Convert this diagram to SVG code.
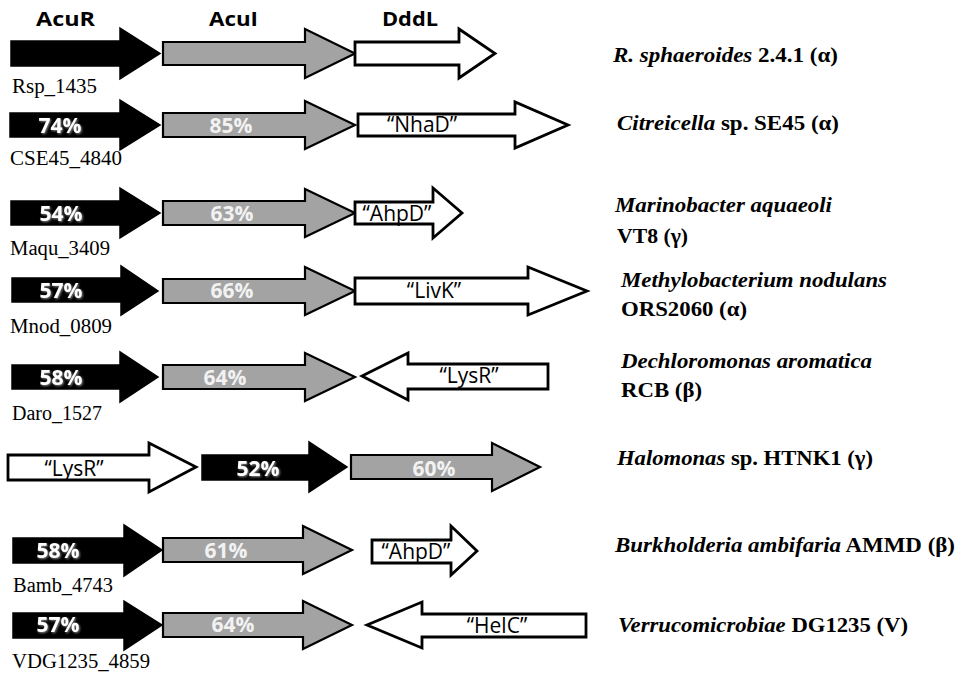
<svg xmlns="http://www.w3.org/2000/svg" width="958" height="673" viewBox="0 0 958 673">
<style>
.bk{fill:#000;stroke:#000;stroke-width:1.5;stroke-linejoin:miter}
.gr{fill:#a3a3a3;stroke:#000;stroke-width:2.2;stroke-linejoin:miter}
.wh{fill:#fff;stroke:#000;stroke-width:2.8;stroke-linejoin:miter}
.hd{font-family:"Open Sans","Liberation Sans",sans-serif;font-weight:bold;font-size:20px;fill:#000}
.pc{font-family:"Open Sans","Liberation Sans",sans-serif;font-weight:bold;font-size:21px;fill:#fff;text-anchor:middle;filter:url(#sh)}
.pg{font-family:"Open Sans","Liberation Sans",sans-serif;font-weight:bold;font-size:21px;fill:#f2f2f2;text-anchor:middle}
.q{font-family:"Open Sans","Liberation Sans",sans-serif;font-size:21px;fill:#000;text-anchor:middle}
.gn{font-family:"Liberation Serif","Times New Roman",serif;font-size:20px;fill:#000}
.sp{font-family:"Liberation Serif","Times New Roman",serif;font-size:21px;font-weight:bold;fill:#000}
.it{font-style:italic}
</style>
<defs>
<filter id="sh" x="-20%" y="-30%" width="140%" height="160%">
<feDropShadow dx="1" dy="1" stdDeviation="0.8" flood-color="#8a8a8a" flood-opacity="1"/>
</filter>
</defs>
<rect width="958" height="673" fill="#fff"/>

<g id="headers">
<text class="hd" x="36" y="26" textLength="59" lengthAdjust="spacingAndGlyphs">AcuR</text>
<text class="hd" x="209" y="26" textLength="49" lengthAdjust="spacingAndGlyphs">AcuI</text>
<text class="hd" x="382" y="26" textLength="56" lengthAdjust="spacingAndGlyphs">DddL</text>
</g>

<g id="row1">
<g id="r1-acuR"><path class="bk" d="M11,41 L120,41 L120,28 L160,53.5 L120,79 L120,66 L11,66 Z"/></g>
<g id="r1-acuI"><path class="gr" d="M163,42 L305,42 L305,29 L355,53.5 L305,78 L305,65 L163,65 Z"/></g>
<g id="r1-dddL"><path class="wh" d="M355,42 L459,42 L459,29 L495,53.5 L459,78 L459,65 L355,65 Z"/></g>
<text class="gn" x="12" y="93" textLength="85" lengthAdjust="spacingAndGlyphs">Rsp_1435</text>
<text class="sp" x="613" y="62" textLength="225" lengthAdjust="spacingAndGlyphs"><tspan class="it">R. sphaeroides</tspan> 2.4.1 (α)</text>
</g>

<g id="row2">
<g id="r2-acuR"><path class="bk" d="M10,113 L120,113 L120,100 L160,125 L120,150 L120,137 L10,137 Z"/><text class="pc" x="60" y="133">74%</text></g>
<g id="r2-acuI"><path class="gr" d="M163,113 L305,113 L305,101 L355,125 L305,149 L305,137 L163,137 Z"/><text class="pg" x="231" y="133">85%</text></g>
<g id="r2-nhaD"><path class="wh" d="M358,114 L515,114 L515,102 L568,125 L515,148 L515,136 L358,136 Z"/><text class="q" x="422" y="132">“NhaD”</text></g>
<text class="gn" x="10" y="165" textLength="112" lengthAdjust="spacingAndGlyphs">CSE45_4840</text>
<text class="sp" x="617" y="130" textLength="222" lengthAdjust="spacingAndGlyphs"><tspan class="it">Citreicella</tspan> sp. SE45 (α)</text>
</g>

<g id="row3">
<g id="r3-acuR"><path class="bk" d="M11,201 L120,201 L120,188 L160,213 L120,238 L120,225 L11,225 Z"/><text class="pc" x="61" y="221">54%</text></g>
<g id="r3-acuI"><path class="gr" d="M163,201 L305,201 L305,189 L355,213 L305,237 L305,225 L163,225 Z"/><text class="pg" x="232" y="221">63%</text></g>
<g id="r3-ahpD"><path class="wh" d="M355,202 L433,202 L433,188 L462,213 L433,238 L433,224 L355,224 Z"/><text class="q" x="397" y="221">“AhpD”</text></g>
<text class="gn" x="10" y="255" textLength="100" lengthAdjust="spacingAndGlyphs">Maqu_3409</text>
<text class="sp it" x="615" y="212" textLength="217" lengthAdjust="spacingAndGlyphs">Marinobacter aquaeoli</text>
<text class="sp" x="617" y="243" textLength="71" lengthAdjust="spacingAndGlyphs">VT8 (γ)</text>
</g>

<g id="row4">
<g id="r4-acuR"><path class="bk" d="M12,278 L121,278 L121,266 L158,291 L121,315 L121,302 L12,302 Z"/><text class="pc" x="61" y="298">57%</text></g>
<g id="r4-acuI"><path class="gr" d="M163,279 L305,279 L305,267 L355,291 L305,315 L305,303 L163,303 Z"/><text class="pg" x="232" y="298">66%</text></g>
<g id="r4-livK"><path class="wh" d="M355,278 L528,278 L528,267 L587,291 L528,315 L528,304 L355,304 Z"/><text class="q" x="434" y="298">“LivK”</text></g>
<text class="gn" x="10" y="333" textLength="102" lengthAdjust="spacingAndGlyphs">Mnod_0809</text>
<text class="sp it" x="621" y="287" textLength="266" lengthAdjust="spacingAndGlyphs">Methylobacterium nodulans</text>
<text class="sp" x="621" y="316" textLength="126" lengthAdjust="spacingAndGlyphs">ORS2060 (α)</text>
</g>

<g id="row5">
<g id="r5-acuR"><path class="bk" d="M12,365 L120,365 L120,352 L158,377 L120,402 L120,389 L12,389 Z"/><text class="pc" x="61" y="385">58%</text></g>
<g id="r5-acuI"><path class="gr" d="M163,365 L305,365 L305,353 L355,377 L305,401 L305,389 L163,389 Z"/><text class="pg" x="225" y="385">64%</text></g>
<g id="r5-lysR"><path class="wh" d="M548,364 L408,364 L408,353 L362,376 L408,400 L408,389 L548,389 Z"/><text class="q" x="469" y="383">“LysR”</text></g>
<text class="gn" x="12" y="420" textLength="90" lengthAdjust="spacingAndGlyphs">Daro_1527</text>
<text class="sp it" x="621" y="368" textLength="251" lengthAdjust="spacingAndGlyphs">Dechloromonas aromatica</text>
<text class="sp" x="621" y="397" textLength="81" lengthAdjust="spacingAndGlyphs">RCB (β)</text>
</g>

<g id="row6">
<g id="r6-lysR"><path class="wh" d="M8,455 L149,455 L149,443 L196,467 L149,492 L149,480 L8,480 Z"/><text class="q" x="74" y="476">“LysR”</text></g>
<g id="r6-acuR"><path class="bk" d="M202,455 L309,455 L309,442 L347,467 L309,492 L309,480 L202,480 Z"/><text class="pc" x="258" y="476">52%</text></g>
<g id="r6-acuI"><path class="gr" d="M351,455 L492,455 L492,443 L540,467 L492,491 L492,479 L351,479 Z"/><text class="pg" x="434" y="476">60%</text></g>
<text class="sp" x="617" y="465" textLength="256" lengthAdjust="spacingAndGlyphs"><tspan class="it">Halomonas</tspan> sp. HTNK1 (γ)</text>
</g>

<g id="row7">
<g id="r7-acuR"><path class="bk" d="M13,538 L124,538 L124,525 L162,550 L124,576 L124,563 L13,563 Z"/><text class="pc" x="58" y="558">58%</text></g>
<g id="r7-acuI"><path class="gr" d="M163,538 L303,538 L303,526 L352,550 L303,574 L303,562 L163,562 Z"/><text class="pg" x="226" y="558">61%</text></g>
<g id="r7-ahpD"><path class="wh" d="M372,540 L451,540 L451,526 L477,551 L451,575 L451,563 L372,563 Z"/><text class="q" x="416" y="559">“AhpD”</text></g>
<text class="gn" x="13" y="592" textLength="100" lengthAdjust="spacingAndGlyphs">Bamb_4743</text>
<text class="sp" x="615" y="552" textLength="340" lengthAdjust="spacingAndGlyphs"><tspan class="it">Burkholderia ambifaria</tspan> AMMD (β)</text>
</g>

<g id="row8">
<g id="r8-acuR"><path class="bk" d="M13,613 L124,613 L124,601 L162,625 L124,650 L124,638 L13,638 Z"/><text class="pc" x="58" y="632">57%</text></g>
<g id="r8-acuI"><path class="gr" d="M163,613 L303,613 L303,601 L352,625 L303,649 L303,637 L163,637 Z"/><text class="pg" x="233" y="632">64%</text></g>
<g id="r8-helC"><path class="wh" d="M586,614 L422,614 L422,602 L367,625 L422,648 L422,637 L586,637 Z"/><text class="q" x="497" y="633">“HelC”</text></g>
<text class="gn" x="12" y="668" textLength="138" lengthAdjust="spacingAndGlyphs">VDG1235_4859</text>
<text class="sp" x="618" y="632" textLength="290" lengthAdjust="spacingAndGlyphs"><tspan class="it">Verrucomicrobiae</tspan> DG1235 (V)</text>
</g>
</svg>
